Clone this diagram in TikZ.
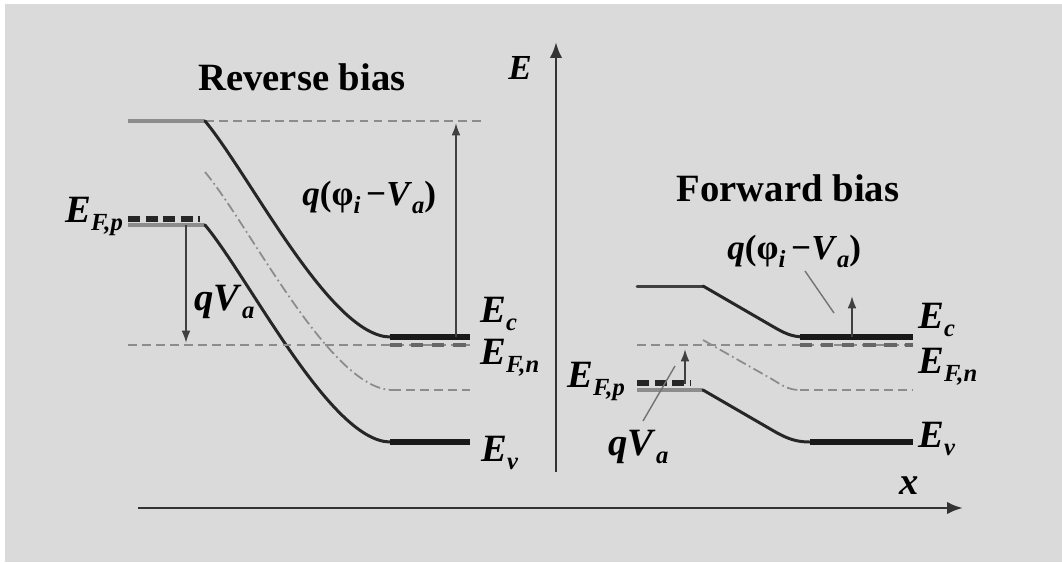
\documentclass[tikz,border=0pt]{standalone}
\usepackage{fontspec}
\setmainfont{Liberation Serif}
\usetikzlibrary{arrows.meta, positioning}
\definecolor{panel}{HTML}{DADADA}
\definecolor{levelgray}{HTML}{8C8C8C}
\newcommand{\lsub}[1]{\raisebox{-0.5ex}{\fontsize{14}{14}\selectfont\textbf{\textit{#1}}}}
\newcommand{\elev}[1]{\textbf{\textit{E}}\lsub{#1}}

\begin{document}
\begin{tikzpicture}[
        x=0.02cm, y=-0.02cm,
        band/.style={line width=1.7pt, draw=black!85, line cap=round},
        edge/.style={line width=3.6pt, draw=black!90},
        stub/.style={line width=2.8pt, draw=levelgray},
        fermi/.style={line width=1pt, draw=levelgray, dash pattern=on 5pt off 3pt},
        ndash/.style={line width=2pt, draw=black!60, dash pattern=on 7pt off 5pt},
        pdash/.style={line width=3pt, draw=black!85, dash pattern=on 7pt off 3pt},
        midgap/.style={line width=1pt, draw=levelgray, dash pattern=on 6pt off 2pt on 1pt off 2pt},
        axis/.style={-{Latex[length=9pt, width=7pt]}, line width=1.6pt, draw=black!80},
        arrow/.style={-{Latex[length=7pt, width=5pt]}, line width=1.1pt, draw=black!75},
        leader/.style={line width=0.8pt, draw=black!55},
        lbl/.style={inner sep=0pt, anchor=base west, font=\fontsize{22}{22}\selectfont},
        title/.style={inner sep=0pt, font=\fontsize{22}{22}\selectfont\bfseries}
    ]

    % frame
    \fill[white] (0,0) rectangle (1062,562);
    \fill[panel] (5,4) rectangle (1062,562);
    \useasboundingbox (0,0) rectangle (1062,562);

    % titles
    \node (revtitle) [title] at (302,77) {Reverse bias};
    \node (fwdtitle) [title] at (788,188) {Forward bias};

    % axes
    \coordinate (ebot) at (556,472);
    \coordinate (etop) at (556,42);
    \coordinate (xleft) at (138,508);
    \coordinate (xright) at (963,508);
    \draw [axis] (ebot) -- (etop);
    \draw [axis] (xleft) -- (xright);
    \node (elbl) [inner sep=0pt, font=\fontsize{20}{20}\selectfont] at (520,68) {\textbf{\textit{E}}};
    \node (xlbl) [inner sep=0pt, font=\fontsize{22}{22}\selectfont] at (909,486) {\textbf{\textit{x}}};

    % reverse bias bands
    \draw [stub] (128,121) -- (205,121);
    \draw [fermi] (205,121) -- (486,121);
    \draw [band] (205,121) .. controls (250,175) and (330,336) .. (390,337);
    \draw [edge] (390,337) -- (470,337);
    \draw [midgap] (205,172) .. controls (250,226) and (330,389) .. (392,390);
    \draw [fermi] (392,390) -- (470,390);
    \draw [stub] (128,225) -- (205,225);
    \draw [pdash] (128,219) -- (200,219);
    \draw [band] (205,225) .. controls (250,279) and (330,441) .. (390,442);
    \draw [edge] (390,442) -- (470,442);
    \draw [fermi] (128,345) -- (470,345);
    \draw [ndash] (390,345) -- (470,345);

    % reverse bias arrows
    \coordinate (rvbibot) at (456,337);
    \coordinate (rvbitop) at (456,123);
    \coordinate (rvatop) at (186,225);
    \coordinate (rvabot) at (186,343);
    \draw [arrow] (rvbibot) -- (rvbitop);
    \draw [arrow] (rvatop) -- (rvabot);

    % reverse bias labels
    \node (rvbi) [lbl, font=\fontsize{20}{20}\selectfont] at (302,205) {\textbf{\textit{q}(φ}\lsub{i}\,\textbf{−\textit{V}}\lsub{a}\textbf{)}};
    \node (rva) [lbl] at (194,310) {\textbf{\textit{qV}}\lsub{a}};
    \node (rfp) [lbl] at (65,222) {\elev{F,p}};
    \node (rec) [lbl] at (480,322) {\elev{c}};
    \node (rfn) [lbl] at (480,364) {\elev{F,n}};
    \node (rev) [lbl] at (481,461) {\elev{v}};

    % forward bias bands
    \draw [band, draw=black!75] (637,286) -- (703,286);
    \draw [band] (703,286) -- (772,326) to[out=-30, in=180] (805,337);
    \draw [edge] (800,337) -- (913,337);
    \draw [fermi] (637,345) -- (913,345);
    \draw [ndash] (800,345) -- (913,345);
    \draw [midgap] (703,340) -- (770,378) to[out=-30, in=180] (800,390);
    \draw [fermi] (800,390) -- (913,390);
    \draw [stub] (637,390) -- (703,390);
    \draw [pdash] (637,383) -- (690,383);
    \draw [band] (703,390) -- (772,430) to[out=-30, in=180] (810,442);
    \draw [edge] (810,442) -- (913,442);

    % forward bias arrows
    \coordinate (fvbibot) at (852,337);
    \coordinate (fvbitop) at (852,296);
    \coordinate (fvabot) at (685,384);
    \coordinate (fvatop) at (685,349);
    \draw [arrow] (fvbibot) -- (fvbitop);
    \draw [arrow] (fvabot) -- (fvatop);

    % forward bias labels
    \node (fvbi) [lbl, font=\fontsize{20}{20}\selectfont] at (727,259) {\textbf{\textit{q}(φ}\lsub{i}\,\textbf{−\textit{V}}\lsub{a}\textbf{)}};
    \node (fva) [lbl] at (608,455) {\textbf{\textit{qV}}\lsub{a}};
    \node (ffp) [lbl] at (567,387) {\elev{F,p}};
    \node (fec) [lbl] at (918,328) {\elev{c}};
    \node (ffn) [lbl] at (918,373) {\elev{F,n}};
    \node (fev) [lbl] at (918,447) {\elev{v}};

    % leaders
    \coordinate (fvbitip) at (834,313);
    \coordinate (fvbitail) at (805,271);
    \coordinate (fvatip) at (675,366);
    \coordinate (fvatail) at (643,421);
    \draw [leader] (fvbitail) -- (fvbitip);
    \draw [leader] (fvatip) -- (fvatail);

\end{tikzpicture}
\end{document}
